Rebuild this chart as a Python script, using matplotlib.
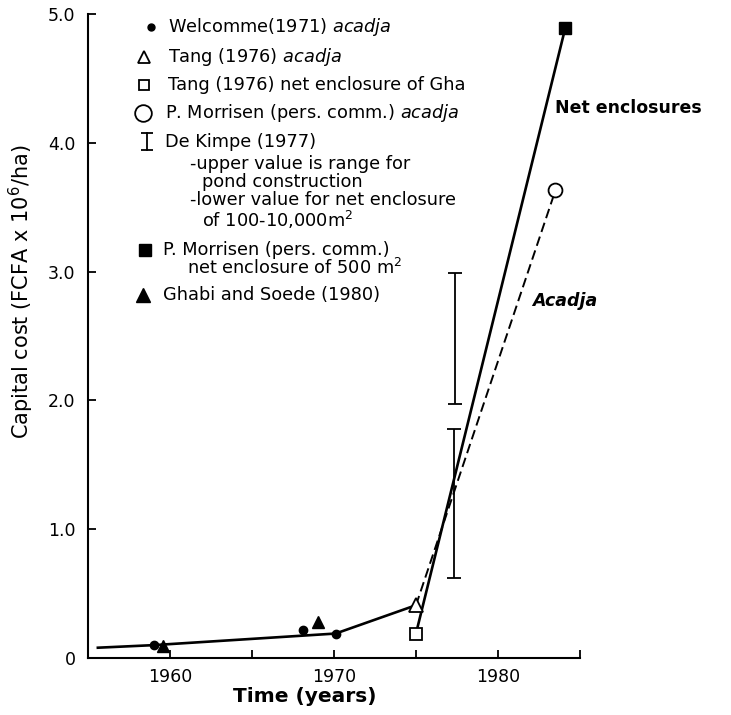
import matplotlib
matplotlib.use("Agg")
import numpy as np
import matplotlib.pyplot as plt

plt.rcParams["font.family"] = ["DejaVu Sans"]
plt.rcParams["mathtext.fontset"] = "dejavusans"

# values
welcomme_year = [1959.0, 1968.1, 1970.1]
welcomme_cost = [0.10, 0.22, 0.19]
ghabi_year = [1959.6, 1969.0]
ghabi_cost = [0.09, 0.28]
tang_acadja_year = [1975.0]
tang_acadja_cost = [0.41]
tang_net_year = [1975.0]
tang_net_cost = [0.19]
morrisen_acadja_year = [1983.5]
morrisen_acadja_cost = [3.63]
morrisen_net_year = [1984.1]
morrisen_net_cost = [4.89]
dekimpe_year = [1977.4, 1977.3]
dekimpe_low = [1.97, 0.62]
dekimpe_high = [2.99, 1.78]

# fitted curves
acadja_solid_year = [1955.6, 1959.0, 1970.1, 1975.0]
acadja_solid_cost = [0.08, 0.10, 0.19, 0.41]
acadja_dash_year = [1975.0, 1983.5]
acadja_dash_cost = [0.41, 3.63]
net_year = [1975.0, 1984.1]
net_cost = [0.19, 4.89]

x_ticks = [1960, 1965, 1970, 1975, 1980, 1985]
x_ticklabels = ["1960", "", "1970", "", "1980", ""]
y_ticks = [0, 1, 2, 3, 4, 5]
y_ticklabels = ["0", "1.0", "2.0", "3.0", "4.0", "5.0"]

fig = plt.figure(figsize=(7.31, 7.15), dpi=100)
ax = fig.add_axes([0.1204, 0.0797, 0.673, 0.9007])
ax.set_xlim(1955, 1985)
ax.set_ylim(0, 5)

lw = 1.9
ax.plot(acadja_solid_year, acadja_solid_cost, color="black", lw=lw, zorder=2)
ax.plot(acadja_dash_year, acadja_dash_cost, color="black", lw=1.4,
        linestyle=(0, (5, 2.5)), zorder=2)
ax.plot(net_year, net_cost, color="black", lw=lw, zorder=2)

ax.plot(welcomme_year, welcomme_cost, "o", color="black", ms=6, zorder=3)
ax.plot(ghabi_year, ghabi_cost, "^", color="black", ms=9, zorder=3)
ax.plot(tang_acadja_year, tang_acadja_cost, "^", mfc="white", mec="black",
        mew=1.3, ms=10, zorder=3)
ax.plot(tang_net_year, tang_net_cost, "s", mfc="white", mec="black",
        mew=1.3, ms=8, zorder=3)
ax.plot(morrisen_acadja_year, morrisen_acadja_cost, "o", mfc="white",
        mec="black", mew=1.3, ms=10, zorder=3)
ax.plot(morrisen_net_year, morrisen_net_cost, "s", color="black", ms=8, zorder=3)

low = np.array(dekimpe_low)
high = np.array(dekimpe_high)
ax.errorbar(dekimpe_year, low, yerr=[np.zeros_like(low), high - low], fmt="none",
            ecolor="black", elinewidth=1.3, capsize=5, capthick=1.3, zorder=2)

ax.text(1983.5, 4.27, "Net enclosures", fontsize=12.5, fontweight="bold",
        va="center", ha="left")
ax.text(1982.1, 2.77, "Acadja", fontsize=12.5, fontweight="bold",
        fontstyle="italic", va="center", ha="left")

for side in ["top", "right"]:
    ax.spines[side].set_visible(False)
for side in ["left", "bottom"]:
    ax.spines[side].set_linewidth(1.5)

ax.set_xticks(x_ticks)
ax.set_xticklabels(x_ticklabels)
ax.set_yticks(y_ticks)
ax.set_yticklabels(y_ticklabels)
ax.tick_params(direction="in", length=6, width=1.3, labelsize=12.5)
ax.tick_params(axis="y", pad=9)
ax.tick_params(axis="x", pad=7)

ax.set_xlabel("Time (years)", fontsize=14.5, fontweight="bold")
ax.set_ylabel(r"Capital cost (FCFA x 10$^6$/ha)", fontsize=15)
ax.xaxis.set_label_coords(0.441, -0.045)
ax.yaxis.set_label_coords(-0.106, 0.568)


# legend drawn by hand, placed in pixel coordinates of the reference
def ax_xy(px, py):
    return (px - 88) / 492, (658 - py) / 644


def key_marker(px, py, **kw):
    x, y = ax_xy(px, py)
    ax.plot([x], [y], transform=ax.transAxes, clip_on=False, color="black", **kw)


def key_text(px, py, s):
    x, y = ax_xy(px, py)
    ax.text(x, y, s, transform=ax.transAxes, fontsize=12.8, va="center", ha="left")


key_marker(151, 27, marker="o", ms=5)
key_text(168, 27, r"Welcomme(1971) $\mathit{acadja}$")
key_marker(144, 57, marker="^", mfc="white", mec="black", mew=1.3, ms=9)
key_text(168, 57, r"Tang (1976) $\mathit{acadja}$")
key_marker(144, 85, marker="s", mfc="white", mec="black", mew=1.3, ms=7)
key_text(168, 85, "Tang (1976) net enclosure of Gha")
key_marker(143, 113, marker="o", mfc="white", mec="black", mew=1.3, ms=12)
key_text(165, 113, r"P. Morrisen (pers. comm.) $\mathit{acadja}$")

bx, by0 = ax_xy(147, 133)
_, by1 = ax_xy(147, 150)
ax.plot([bx, bx], [by0, by1], transform=ax.transAxes, color="black", lw=1.3)
ax.plot([bx, bx], [by0, by1], transform=ax.transAxes, color="black",
        linestyle="none", marker="_", ms=8, mew=1.3)
key_text(165, 142, "De Kimpe (1977)")
key_text(190, 164, "-upper value is range for")
key_text(202, 182, "pond construction")
key_text(190, 200, "-lower value for net enclosure")
key_text(202, 220, r"of 100-10,000m$^2$")

key_marker(145, 250, marker="s", ms=8)
key_text(163, 250, "P. Morrisen (pers. comm.)")
key_text(187, 268, r"net enclosure of 500 m$^2$")
key_marker(143, 295, marker="^", ms=10)
key_text(163, 295, "Ghabi and Soede (1980)")

fig.savefig("out.png", dpi=100)
